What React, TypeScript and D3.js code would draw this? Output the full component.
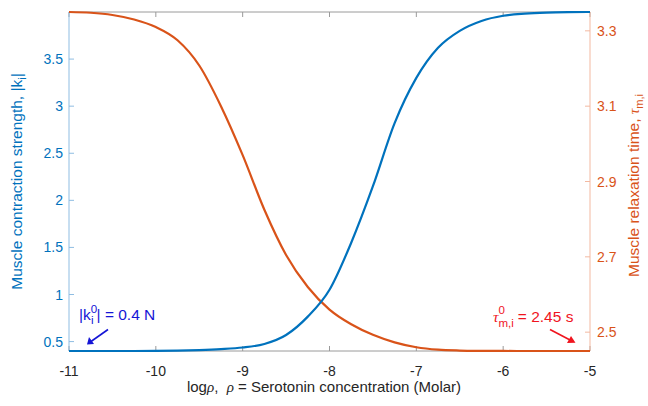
import React from "react";
import * as d3 from "d3";

const logRho = [-11, -10.75, -10.5, -10.25, -10, -9.75, -9.5, -9.25, -9, -8.75, -8.5, -8.25, -8, -7.75, -7.5, -7.25, -7, -6.75, -6.5, -6.25, -6, -5.75, -5.5, -5.25, -5];
const strength = [0.40, 0.40, 0.40, 0.40, 0.401, 0.404, 0.41, 0.42, 0.437, 0.475, 0.57, 0.765, 1.05, 1.55, 2.15, 2.82, 3.30, 3.62, 3.80, 3.905, 3.96, 3.982, 3.993, 3.998, 4.0];
const relaxTime = [3.35, 3.348, 3.342, 3.330, 3.31, 3.275, 3.208, 3.10, 2.97, 2.825, 2.705, 2.62, 2.56, 2.521, 2.493, 2.473, 2.46, 2.4535, 2.4512, 2.4504, 2.4501, 2.45, 2.45, 2.45, 2.45];

const xTicks = [-11, -10, -9, -8, -7, -6, -5];
const leftTicks = [0.5, 1, 1.5, 2, 2.5, 3, 3.5];
const rightTicks = [2.5, 2.7, 2.9, 3.1, 3.3];

const BLUE = "#0072BD";
const ORANGE = "#D95319";
const FONT = "'Liberation Sans', Arial, Helvetica, sans-serif";
const SERIF = "'Liberation Serif', 'DejaVu Serif', serif";

export default function App() {
  const W = 648, H = 406;
  const L = 69, R = 590, T = 12, B = 351;
  const x = d3.scaleLinear().domain([-11, -5]).range([L, R]);
  const yL = d3.scaleLinear().domain([0.4, 4.0]).range([B, T]);
  const yR = d3.scaleLinear().domain([2.45, 3.35]).range([B, T]);

  const lineL = d3.line<number>().x((_, i) => x(logRho[i])).y((d) => yL(d)).curve(d3.curveMonotoneX);
  const lineR = d3.line<number>().x((_, i) => x(logRho[i])).y((d) => yR(d)).curve(d3.curveMonotoneX);

  const tickLen = 5;
  return (
    <svg width={W} height={H} style={{ position: "absolute", left: 0, top: 0, background: "#fff" }} fontFamily={FONT}>
      <rect x={0} y={0} width={W} height={H} fill="#fff" />
      {/* top & bottom axes */}
      <line x1={L} x2={R} y1={T} y2={T} stroke="#9a9a9a" strokeWidth={1} />
      <line x1={L} x2={R} y1={B} y2={B} stroke="#9a9a9a" strokeWidth={1} />
      {xTicks.map((t) => (
        <g key={"xt" + t}>
          <line x1={x(t)} x2={x(t)} y1={B} y2={B - tickLen} stroke="#9a9a9a" />
          <line x1={x(t)} x2={x(t)} y1={T} y2={T + tickLen} stroke="#9a9a9a" />
          <text x={x(t)} y={376} textAnchor="middle" fontSize={14} fill="#262626">{String(t)}</text>
        </g>
      ))}
      {/* left axis */}
      <line x1={L} x2={L} y1={T} y2={B} stroke="#8fbde2" strokeWidth={1} />
      {leftTicks.map((t) => (
        <g key={"lt" + t}>
          <line x1={L} x2={L + tickLen} y1={yL(t)} y2={yL(t)} stroke="#8fbde2" />
          <text x={63} y={yL(t) + 5} textAnchor="end" fontSize={14} fill={BLUE}>{String(t)}</text>
        </g>
      ))}
      {/* right axis */}
      <line x1={R} x2={R} y1={T} y2={B} stroke="#f3b9a1" strokeWidth={1} />
      {rightTicks.map((t) => (
        <g key={"rt" + t}>
          <line x1={R} x2={R - tickLen} y1={yR(t)} y2={yR(t)} stroke="#f3b9a1" />
          <text x={597} y={yR(t) + 5} textAnchor="start" fontSize={14} fill={ORANGE}>{t.toFixed(1)}</text>
        </g>
      ))}
      {/* curves */}
      <path d={lineR(relaxTime) || ""} fill="none" stroke={ORANGE} strokeWidth={2.2} strokeLinejoin="round" />
      <path d={lineL(strength) || ""} fill="none" stroke={BLUE} strokeWidth={2.2} strokeLinejoin="round" />

      {/* x label */}
      <text x={324} y={392} textAnchor="middle" fontSize={15} fill="#262626">
        log<tspan fontFamily={SERIF} fontStyle="italic">ρ</tspan>,{"\u00a0\u00a0"}<tspan fontFamily={SERIF} fontStyle="italic">ρ</tspan> = Serotonin concentration (Molar)
      </text>
      {/* left y label */}
      <text transform={`translate(22,${(T + B) / 2}) rotate(-90)`} textAnchor="middle" fontSize={15.5} fill={BLUE}>
        Muscle contraction strength, |k<tspan fontSize={11} dy={4}>i</tspan><tspan dy={-4}>|</tspan>
      </text>
      {/* right y label */}
      <text transform={`translate(639,${(T + B) / 2 + 4}) rotate(-90)`} textAnchor="middle" fontSize={15.5} fill={ORANGE}>
        Muscle relaxation time, <tspan fontFamily={SERIF} fontStyle="italic">τ</tspan><tspan fontSize={11} dy={4}>m,i</tspan>
      </text>

      {/* annotations */}
      <text x={79} y={320} fontSize={15.5} fill="#1515d6">
        |k<tspan fontSize={11.5} dy={-7}>0</tspan><tspan fontSize={11.5} dx={-6.2} dy={11}>i</tspan><tspan dy={-4} dx={3}>| = 0.4 N</tspan>
      </text>
      <line x1={108} y1={329.5} x2={91} y2={341.5} stroke="#1515d6" strokeWidth={1.6} />
      <path d="M87,344.5 L89,337 L94,344 Z" fill="#1515d6" />

      <text x={493} y={322} fontSize={15.5} fill="#f0141e">
        <tspan fontFamily={SERIF} fontStyle="italic">τ</tspan><tspan fontSize={11.5} dy={-8}>0</tspan><tspan fontSize={11.5} dx={-6.5} dy={13}>m,i</tspan><tspan dy={-5} dx={4}>= 2.45 s</tspan>
      </text>
      <line x1={550} y1={329.5} x2={571} y2={340.5} stroke="#f0141e" strokeWidth={1.6} />
      <path d="M575.5,342.8 L567,343 L571,336 Z" fill="#f0141e" />
    </svg>
  );
}
